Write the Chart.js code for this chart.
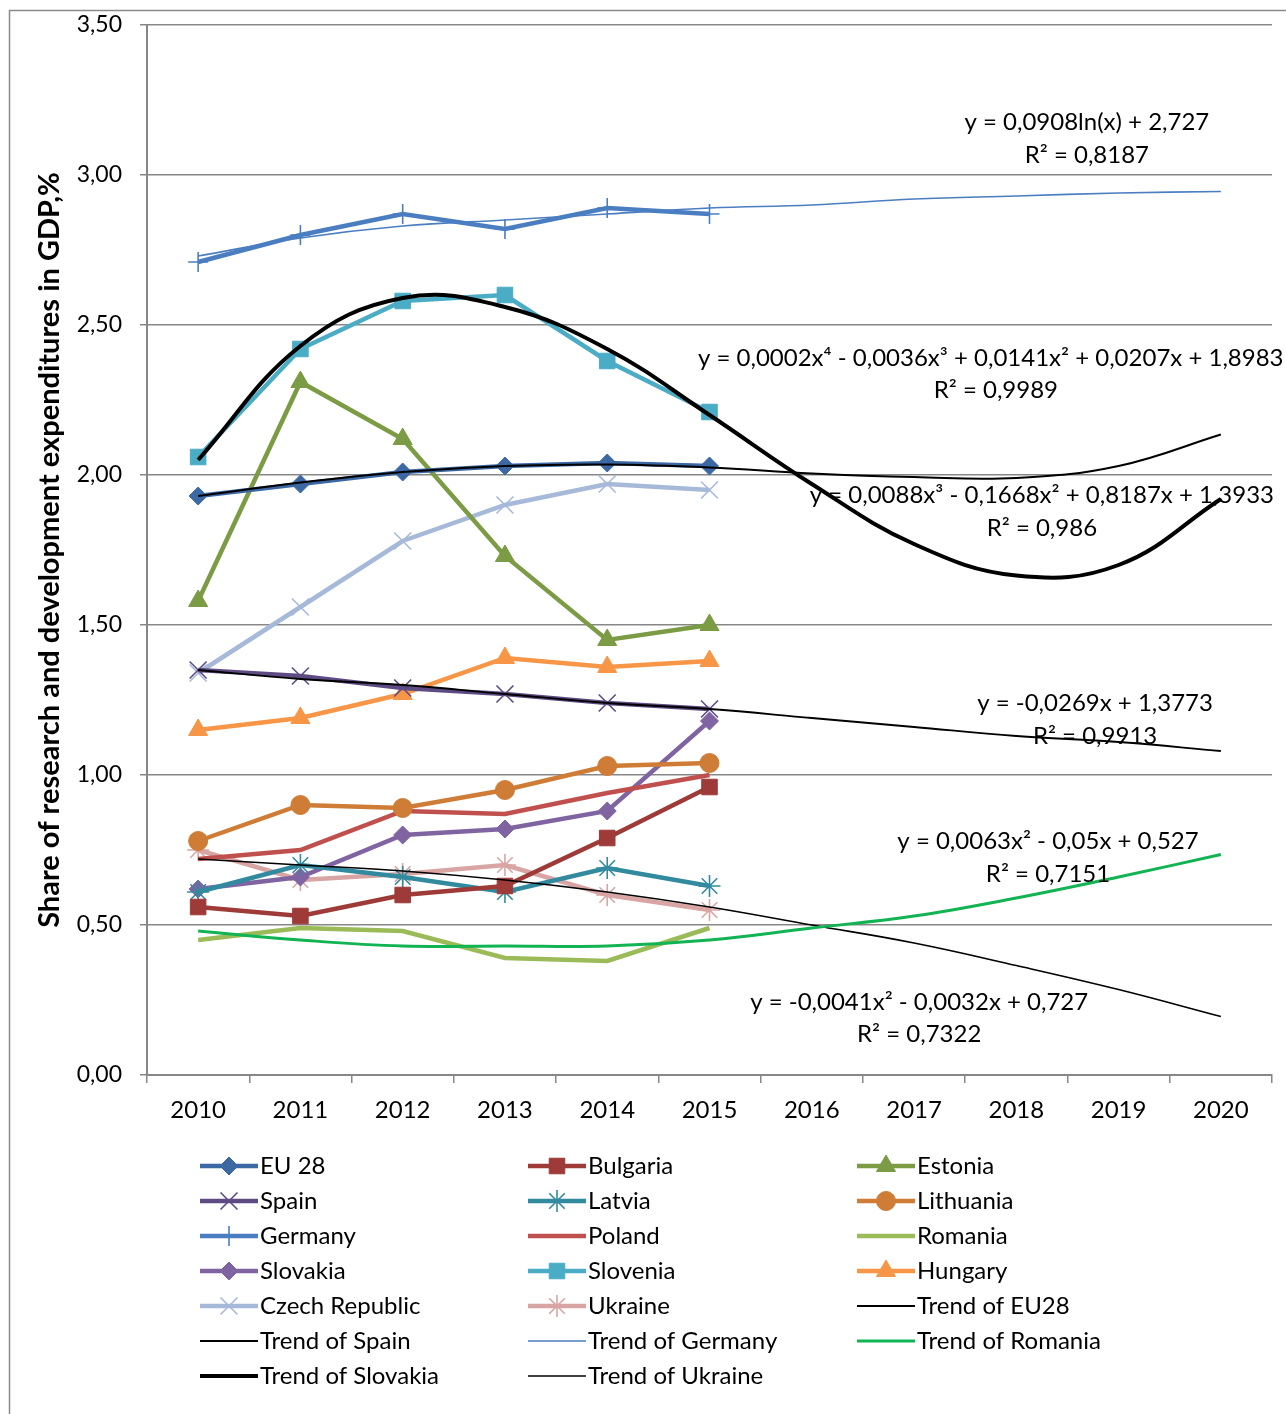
<!DOCTYPE html>
<html lang="en">
<head>
<meta charset="UTF-8">
<title>R&amp;D expenditures share in GDP</title>
<script src="https://cdn.jsdelivr.net/npm/chart.js"></script>
<style>
  body { margin: 0; background: #fff; }
  canvas { display: block; }
</style>
</head>
<body>
<canvas id="chart" width="1286" height="1414"></canvas>
<script>
// years on the x axis (data 2010-2015, trends run to 2020)
const years = ['2010', '2011', '2012', '2013', '2014', '2015', '2016', '2017', '2018', '2019', '2020'];
const yTicks = [0, 0.5, 1, 1.5, 2, 2.5, 3, 3.5];

// country series, share of R&D in GDP, %
const eu28 = [1.93, 1.97, 2.01, 2.03, 2.04, 2.03];
const bulgaria = [0.56, 0.53, 0.60, 0.63, 0.79, 0.96];
const estonia = [1.58, 2.31, 2.12, 1.73, 1.45, 1.50];
const spain = [1.35, 1.33, 1.29, 1.27, 1.24, 1.22];
const latvia = [0.61, 0.70, 0.66, 0.61, 0.69, 0.63];
const lithuania = [0.78, 0.90, 0.89, 0.95, 1.03, 1.04];
const germany = [2.71, 2.80, 2.87, 2.82, 2.89, 2.87];
const poland = [0.72, 0.75, 0.88, 0.87, 0.94, 1.00];
const romania = [0.45, 0.49, 0.48, 0.39, 0.38, 0.49];
const slovakia = [0.62, 0.66, 0.80, 0.82, 0.88, 1.18];
const slovenia = [2.06, 2.42, 2.58, 2.60, 2.38, 2.21];
const hungary = [1.15, 1.19, 1.27, 1.39, 1.36, 1.38];
const czech = [1.34, 1.56, 1.78, 1.90, 1.97, 1.95];
const ukraine = [0.75, 0.65, 0.67, 0.70, 0.60, 0.55];

// trend lines
const trendEU28 = [1.93, 1.975, 2.01, 2.03, 2.035, 2.025, 2.005, 1.993, 1.99, 2.03, 2.135];
const trendSpain = [1.35, 1.32, 1.30, 1.27, 1.24, 1.22, 1.19, 1.16, 1.13, 1.11, 1.08];
const trendGermany = [2.73, 2.79, 2.83, 2.85, 2.87, 2.89, 2.90, 2.92, 2.93, 2.94, 2.945];
const trendRomania = [0.48, 0.45, 0.43, 0.43, 0.43, 0.45, 0.49, 0.53, 0.59, 0.66, 0.735];
const trendSlovakia = [2.05, 2.43, 2.59, 2.56, 2.42, 2.20, 1.97, 1.77, 1.665, 1.70, 1.92];
const trendUkraine = [0.72, 0.70, 0.68, 0.65, 0.61, 0.56, 0.50, 0.44, 0.365, 0.285, 0.195];

const FONT = 'Lato, "Open Sans", sans-serif';

function country(label, data, color, style, radius) {
  const cross = (style === 'cross' || style === 'crossRot' || style === 'star');
  return {
    label: label, data: data,
    borderColor: color, backgroundColor: color,
    borderWidth: 4.5, tension: 0,
    pointStyle: style || 'circle',
    pointRadius: style ? radius : 0,
    pointBorderColor: color, pointBackgroundColor: color,
    pointBorderWidth: cross ? 1.6 : 1,
    order: 2
  };
}
function trend(label, data, color, width) {
  return {
    label: label, data: data,
    borderColor: color, backgroundColor: color,
    borderWidth: width, tension: 0.4,
    pointRadius: 0, order: 1
  };
}

const datasets = [
  country('EU 28', eu28, '#3C68A4', 'rectRot', 9),
  country('Bulgaria', bulgaria, '#9E3B39', 'rect', 11),
  country('Estonia', estonia, '#7B9B44', 'triangle', 11),
  country('Spain', spain, '#5F4B84', 'crossRot', 12),
  country('Latvia', latvia, '#328A9F', 'star', 11),
  country('Lithuania', lithuania, '#CF7C36', 'circle', 9.5),
  country('Germany', germany, '#4A7EC1', 'cross', 10),
  country('Poland', poland, '#C0504D', null, 0),
  country('Romania', romania, '#9BBB59', null, 0),
  country('Slovakia', slovakia, '#8064A2', 'rectRot', 9),
  country('Slovenia', slovenia, '#4BACC6', 'rect', 11),
  country('Hungary', hungary, '#F79646', 'triangle', 11),
  country('Czech Republic', czech, '#A7B9D9', 'crossRot', 12),
  country('Ukraine', ukraine, '#D9A5A4', 'star', 11),
  trend('Trend of EU28', trendEU28, '#000000', 2),
  trend('Trend of Spain', trendSpain, '#000000', 1.8),
  trend('Trend of Germany', trendGermany, '#4A7EC1', 1.6),
  trend('Trend of Romania', trendRomania, '#12B352', 3),
  trend('Trend of Slovakia', trendSlovakia, '#000000', 4),
  trend('Trend of Ukraine', trendUkraine, '#000000', 1.6)
];

// trend equations: [x as category index, y value, text]
const equations = [
  [8.69, 3.177, 'y = 0,0908ln(x) + 2,727'], [8.69, 3.067, 'R² = 0,8187'],
  [7.75, 2.390, 'y = 0,0002x⁴ - 0,0036x³ + 0,0141x² + 0,0207x + 1,8983'], [7.80, 2.283, 'R² = 0,9989'],
  [8.25, 1.933, 'y = 0,0088x³ - 0,1668x² + 0,8187x + 1,3933'], [8.25, 1.823, 'R² = 0,986'],
  [8.77, 1.240, 'y = -0,0269x + 1,3773'], [8.77, 1.130, 'R² = 0,9913'],
  [8.31, 0.780, 'y = 0,0063x² - 0,05x + 0,527'], [8.31, 0.670, 'R² = 0,7151'],
  [7.05, 0.243, 'y = -0,0041x² - 0,0032x + 0,727'], [7.05, 0.137, 'R² = 0,7322']
];

const extras = {
  id: 'extras',
  beforeDraw(chart) {
    const ctx = chart.ctx;
    ctx.save();
    ctx.fillStyle = '#fff';
    ctx.fillRect(0, 0, chart.width, chart.height);
    ctx.strokeStyle = '#8a8a8a';
    ctx.lineWidth = 1.5;
    ctx.strokeRect(9.5, 10.5, chart.width + 20, chart.height + 20);
    ctx.restore();
  },
  afterDraw(chart) {
    const ctx = chart.ctx;
    const xs = chart.scales.x, ys = chart.scales.y;
    ctx.save();
    ctx.fillStyle = '#000';
    ctx.font = '24px ' + FONT;
    ctx.textAlign = 'center';
    ctx.textBaseline = 'middle';
    equations.forEach(e => {
      ctx.fillText(e[2], xs.getPixelForValue(e[0]), ys.getPixelForValue(e[1]));
    });

    // legend in three columns
    const colX = [200, 528, 857];
    const rowY0 = 1166, rowH = 35;
    chart.data.datasets.forEach((ds, i) => {
      const x = colX[i % 3], y = rowY0 + Math.floor(i / 3) * rowH;
      ctx.save();
      ctx.strokeStyle = ds.borderColor;
      ctx.lineWidth = ds.borderWidth;
      ctx.beginPath();
      ctx.moveTo(x, y);
      ctx.lineTo(x + 58, y);
      ctx.stroke();
      if (ds.pointRadius && Chart.helpers && Chart.helpers.drawPoint) {
        ctx.fillStyle = ds.pointBackgroundColor;
        ctx.strokeStyle = ds.pointBorderColor;
        ctx.lineWidth = ds.pointBorderWidth;
        Chart.helpers.drawPoint(ctx, {
          pointStyle: ds.pointStyle, radius: ds.pointRadius,
          rotation: 0, borderWidth: ds.pointBorderWidth
        }, x + 29, y);
      }
      ctx.restore();
      ctx.textAlign = 'left';
      ctx.fillText(ds.label, x + 60, y);
    });
    ctx.restore();
  }
};

new Chart(document.getElementById('chart'), {
  type: 'line',
  data: { labels: years, datasets: datasets },
  plugins: [extras],
  options: {
    responsive: false,
    animation: false,
    layout: { padding: { left: 0, right: 14, top: 25, bottom: 279 } },
    plugins: { legend: { display: false }, tooltip: { enabled: false } },
    scales: {
      x: {
        offset: true,
        grid: { drawOnChartArea: false, offset: true, tickLength: 8, color: '#878787', lineWidth: 1.5 },
        border: { color: '#878787', width: 2 },
        ticks: { color: '#000', font: { family: FONT, size: 24 }, padding: 13, maxRotation: 0 },
        afterFit(scale) { scale.height = 60; }
      },
      y: {
        min: 0, max: 3.5,
        afterBuildTicks(scale) { scale.ticks = yTicks.map(v => ({ value: v })); },
        grid: { color: '#878787', lineWidth: 1.5, tickLength: 7 },
        border: { color: '#878787', width: 2 },
        ticks: {
          color: '#000', font: { family: FONT, size: 23 }, padding: 18,
          callback: v => v.toFixed(2).replace('.', ',')
        },
        title: {
          display: true,
          text: 'Share of research and development expenditures in GDP,%',
          color: '#000',
          font: { family: FONT, size: 29, weight: 'bold' },
          padding: { top: 32, bottom: 0 }
        },
        afterFit(scale) {
          scale.width = 147;
          scale.paddingTop = 0;
          scale.paddingBottom = 0;
        }
      }
    }
  }
});
</script>
</body>
</html>
